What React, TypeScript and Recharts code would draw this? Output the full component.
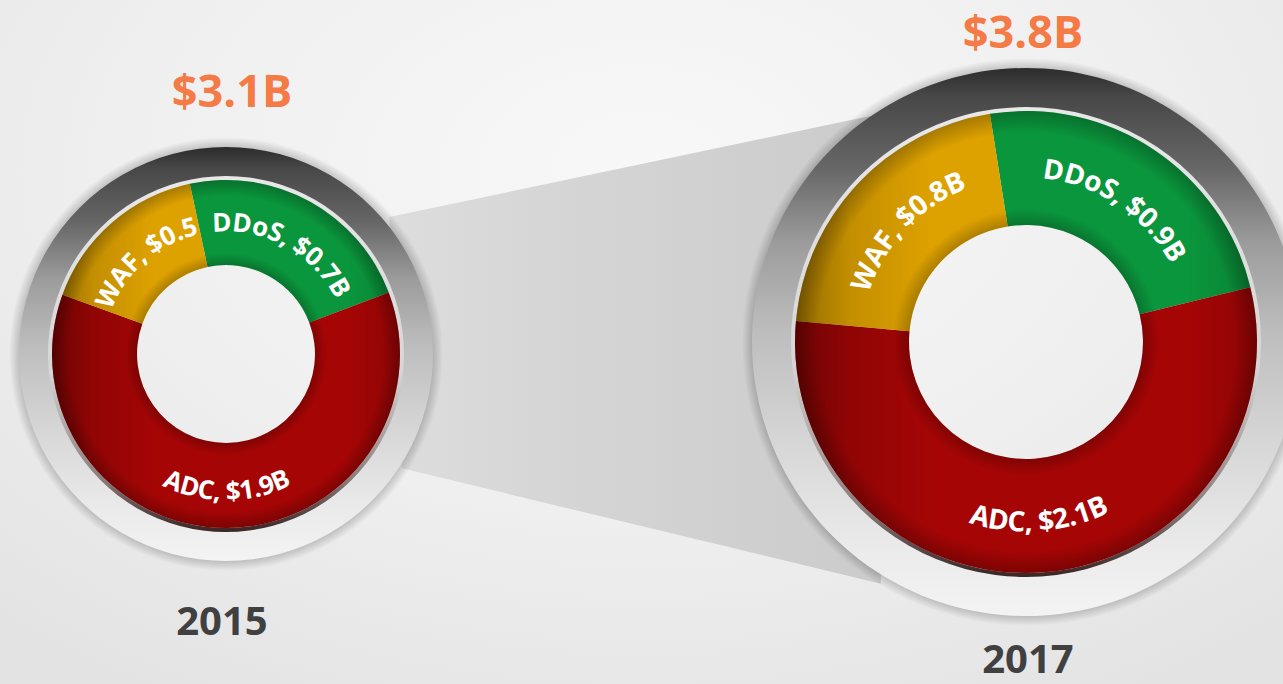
import React from "react";
import { Cell, Pie, PieChart } from "recharts";

const W = 1283;
const H = 684;
const RAD = Math.PI / 180;

const segments = ["DDoS", "ADC", "WAF"];
const values2015 = [0.7, 1.9, 0.5];
const values2017 = [0.9, 2.1, 0.8];
const labels2015 = ["DDoS, $0.7B", "ADC, $1.9B", "WAF, $0.5"];
const labels2017 = ["DDoS, $0.9B", "ADC, $2.1B", "WAF, $0.8B"];
const totalLabels = ["$3.1B", "$3.8B"];
const yearLabels = ["2015", "2017"];

const segmentColors = ["#0a963c", "#a50505", "#dea200"];
const FONT = "'Open Sans', 'DejaVu Sans', sans-serif";

type Donut = {
  key: string;
  cx: number;
  cy: number;
  hole: number;
  outer: number;
  ring: number;
  start: number;
  labelSize: number;
  values: number[];
  labels: string[];
  total: string;
  year: string;
  totalPos: [number, number];
  yearPos: [number, number];
};

const donuts: Donut[] = [
  {
    key: "d2015",
    cx: 226,
    cy: 354,
    hole: 89,
    outer: 175,
    ring: 207,
    start: 102,
    labelSize: 26,
    values: values2015,
    labels: labels2015,
    total: totalLabels[0],
    year: yearLabels[0],
    totalPos: [232, 107],
    yearPos: [222, 635]
  },
  {
    key: "d2017",
    cx: 1026,
    cy: 342,
    hole: 117,
    outer: 232,
    ring: 274,
    start: 99,
    labelSize: 28,
    values: values2017,
    labels: labels2017,
    total: totalLabels[1],
    year: yearLabels[1],
    totalPos: [1023, 48],
    yearPos: [1028, 673]
  }
];

const polar = (cx: number, cy: number, r: number, deg: number) => [
  cx + r * Math.cos(deg * RAD),
  cy - r * Math.sin(deg * RAD)
];

// white label bent along the ring, outward-facing on top, inward on the bottom
function arcLabel(donut: Donut) {
  return (props: any) => {
    const { cx, cy, midAngle, innerRadius, outerRadius, index } = props;
    const fontSize = donut.labelSize;
    const mid = (innerRadius + outerRadius) / 2;
    const bottom = Math.sin(midAngle * RAD) < 0;
    const span = 80;
    const r = bottom ? mid + 5 + 0.36 * fontSize : mid - 0.36 * fontSize;
    const a1 = bottom ? midAngle - span : midAngle + span;
    const a2 = bottom ? midAngle + span : midAngle - span;
    const [x1, y1] = polar(cx, cy, r, a1);
    const [x2, y2] = polar(cx, cy, r, a2);
    const id = `arc-${donut.key}-${index}`;
    return (
      <g key={id}>
        <defs>
          <path id={id} d={`M ${x1} ${y1} A ${r} ${r} 0 0 ${bottom ? 0 : 1} ${x2} ${y2}`} fill="none" />
        </defs>
        <text fill="#ffffff" fontFamily={FONT} fontWeight={700} fontSize={fontSize} letterSpacing={-0.3}>
          <textPath href={`#${id}`} startOffset="50%" textAnchor="middle">
            {donut.labels[index]}
          </textPath>
        </text>
      </g>
    );
  };
}

function Backdrop() {
  const [a, b] = donuts;
  const tl = polar(a.cx, a.cy, a.ring + 6, 40);
  const bl = polar(a.cx, a.cy, a.ring + 3, -33);
  const tr = polar(b.cx, b.cy, b.ring - 6, 121);
  const br = polar(b.cx, b.cy, b.ring + 8, -121);
  return (
    <svg width={W} height={H} style={{ position: "absolute", left: 0, top: 0 }}>
      <defs>
        <linearGradient id="funnel" x1="0" y1="0" x2="1" y2="0">
          <stop offset="0" stopColor="#dddddd" />
          <stop offset="0.35" stopColor="#d5d5d5" />
          <stop offset="1" stopColor="#cbcbcb" />
        </linearGradient>
        <linearGradient id="metal" x1="0" y1="0" x2="0" y2="1">
          <stop offset="0" stopColor="#2c2c2c" />
          <stop offset="0.05" stopColor="#474747" />
          <stop offset="0.18" stopColor="#666666" />
          <stop offset="0.32" stopColor="#9c9c9c" />
          <stop offset="0.48" stopColor="#bdbdbd" />
          <stop offset="0.68" stopColor="#d6d6d6" />
          <stop offset="0.88" stopColor="#ebebeb" />
          <stop offset="1" stopColor="#f3f3f3" />
        </linearGradient>
        <linearGradient id="rim" x1="0" y1="0" x2="0" y2="1">
          <stop offset="0" stopColor="#e8e8e8" />
          <stop offset="0.55" stopColor="#d6d6d6" />
          <stop offset="0.85" stopColor="#8c7c7c" />
          <stop offset="1" stopColor="#3a2424" />
        </linearGradient>
        <linearGradient id="light" x1="0" y1="0" x2="1" y2="0">
          <stop offset="0" stopColor="#000" stopOpacity="0.34" />
          <stop offset="0.12" stopColor="#000" stopOpacity="0.12" />
          <stop offset="0.3" stopColor="#000" stopOpacity="0" />
          <stop offset="0.85" stopColor="#000" stopOpacity="0" />
          <stop offset="1" stopColor="#000" stopOpacity="0.14" />
        </linearGradient>
        {donuts.map((d) => (
          <radialGradient key={d.key} id={`shade-${d.key}`} gradientUnits="userSpaceOnUse" cx={d.cx} cy={d.cy} r={d.outer}>
            <stop offset={d.hole / d.outer} stopColor="#000" stopOpacity="0.22" />
            <stop offset={d.hole / d.outer + 0.07} stopColor="#000" stopOpacity="0" />
            <stop offset="0.9" stopColor="#000" stopOpacity="0" />
            <stop offset="1" stopColor="#000" stopOpacity="0.26" />
          </radialGradient>
        ))}
        {donuts.map((d) => (
          <radialGradient key={d.key} id={`glow-${d.key}`} gradientUnits="userSpaceOnUse" cx={d.cx} cy={d.cy} r={d.ring + 10}>
            <stop offset={(d.ring - 2) / (d.ring + 10)} stopColor="#000" stopOpacity="0.22" />
            <stop offset="1" stopColor="#000" stopOpacity="0" />
          </radialGradient>
        ))}
      </defs>
      <polygon points={[tl, tr, br, bl].map((p) => p.join(",")).join(" ")} fill="url(#funnel)" />
      {donuts.map((d) => (
        <g key={d.key} fontFamily={FONT} fontWeight={700} textAnchor="middle">
          <text x={d.totalPos[0]} y={d.totalPos[1]} fontSize={45} fill="#f47a46">
            {d.total}
          </text>
          <text x={d.yearPos[0]} y={d.yearPos[1]} fontSize={40} fill="#404040">
            {d.year}
          </text>
        </g>
      ))}
    </svg>
  );
}

export default function App() {
  const one = [{ name: "ring", value: 1 }];
  return (
    <div
      style={{
        position: "absolute",
        left: 0,
        top: 0,
        width: W,
        height: H,
        overflow: "hidden",
        background: "radial-gradient(ellipse 75% 90% at 50% 25%, #f8f8f8 0%, #efefef 55%, #e3e3e3 100%)"
      }}
    >
      <Backdrop />
      <div style={{ position: "absolute", left: 0, top: 0 }}>
        <PieChart width={W} height={H} margin={{ top: 0, right: 0, bottom: 0, left: 0 }}>
          {donuts.flatMap((d) => {
            const data = segments.map((name, i) => ({ name, value: d.values[i] }));
            const ang = { startAngle: d.start, endAngle: d.start - 360 };
            return [
              <Pie key={`${d.key}-glow`} data={one} dataKey="value" cx={d.cx} cy={d.cy} innerRadius={d.ring - 2} outerRadius={d.ring + 10} fill={`url(#glow-${d.key})`} stroke="none" isAnimationActive={false} />,
              <Pie key={`${d.key}-ring`} data={one} dataKey="value" cx={d.cx} cy={d.cy} innerRadius={d.outer} outerRadius={d.ring} fill="url(#metal)" stroke="none" isAnimationActive={false} />,
              <Pie key={`${d.key}-rim`} data={one} dataKey="value" cx={d.cx} cy={d.cy} innerRadius={d.outer - 1} outerRadius={d.outer + 3} fill="url(#rim)" stroke="none" isAnimationActive={false} />,
              <Pie key={`${d.key}-main`} data={data} dataKey="value" nameKey="name" cx={d.cx} cy={d.cy} innerRadius={d.hole} outerRadius={d.outer - 1} {...ang} stroke="none" isAnimationActive={false}>
                {data.map((entry, i) => (
                  <Cell key={entry.name} fill={segmentColors[i]} />
                ))}
              </Pie>,
              <Pie key={`${d.key}-light`} data={one} dataKey="value" cx={d.cx} cy={d.cy} innerRadius={d.hole} outerRadius={d.outer - 1} fill="url(#light)" stroke="none" isAnimationActive={false} />,
              <Pie key={`${d.key}-shade`} data={one} dataKey="value" cx={d.cx} cy={d.cy} innerRadius={d.hole} outerRadius={d.outer - 1} fill={`url(#shade-${d.key})`} stroke="none" isAnimationActive={false} />,
              <Pie key={`${d.key}-labels`} data={data} dataKey="value" nameKey="name" cx={d.cx} cy={d.cy} innerRadius={d.hole} outerRadius={d.outer} {...ang} fill="transparent" stroke="none" labelLine={false} label={arcLabel(d)} isAnimationActive={false} />
            ];
          })}
        </PieChart>
      </div>
    </div>
  );
}
